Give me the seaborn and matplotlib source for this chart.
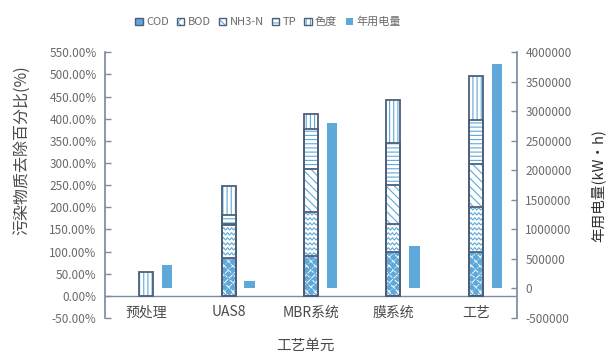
import numpy as np
import matplotlib
matplotlib.use("Agg")
import matplotlib.pyplot as plt
import seaborn as sns
from matplotlib.patches import Rectangle, Patch, Polygon
from matplotlib.lines import Line2D
from matplotlib.ticker import FuncFormatter, FixedLocator

# ---- data -------------------------------------------------------------
units = ["预处理", "UAS8", "MBR系统", "膜系统", "工艺"]
pollutants = ["COD", "BOD", "NH3-N", "TP", "色度"]
cod = [0, 85, 90, 100, 100]
bod = [0, 76, 99, 62, 100]
nh3n = [0, 2, 98, 88, 97]
tp = [0, 19, 89, 95, 100]
chroma = [55, 66, 35, 98, 100]
power = [390000, 120000, 2800000, 720000, 3800000]
left_ticks = list(range(-50, 551, 50))
right_ticks = list(range(-500000, 4000001, 500000))

# ---- style ------------------------------------------------------------
sns.set_theme(style="white")
plt.rcParams["font.family"] = ["Noto Sans CJK SC", "DejaVu Sans"]
plt.rcParams["hatch.linewidth"] = 0.8

BLUE = "#5ea9d9"
OUTLINE = "#4f5f78"
SPINE = "#7d8ca3"
TICKTXT = "#6a6a6a"
LABEL = "#4a4a4a"

W, H = 608, 353
fig = plt.figure(figsize=(W / 100, H / 100), dpi=100)
ax = fig.add_axes([105 / W, 35 / H, 412 / W, 265.7 / H])
ax2 = ax.twinx()

# ---- stacked removal bars (cumulative layers, tallest first) ----------
series = [cod, bod, nh3n, tp, chroma]
cum = np.cumsum(np.array(series, dtype=float), axis=0)
hatches = [None, "wave", "\\\\\\\\", "----", "||||"]

layer_patches = {}
for k in reversed(range(len(series))):
    n_before = len(ax.patches)
    sns.barplot(x=units, y=cum[k], order=units, ax=ax, width=0.17,
                color="white", saturation=1, errorbar=None)
    layer_patches[k] = ax.patches[n_before:]

ax.set_xlim(-0.5, 4.5)
ax.set_ylim(-50, 550)

for k in range(len(series)):
    for i, p in enumerate(layer_patches[k]):
        p.set_zorder(2)
        p.set_linewidth(0)
        p.set_facecolor("white")
        if k == 0:
            p.set_edgecolor("white")
        else:
            p.set_edgecolor(BLUE)
            if hatches[k] != "wave":
                p.set_hatch(hatches[k])
        if series[k][i] > 0:
            r = Rectangle((p.get_x(), p.get_y()), p.get_width(), p.get_height(),
                          fill=False, edgecolor=OUTLINE, linewidth=1.3, zorder=4)
            ax.add_patch(r)

# pixel -> data helper for the custom fill patterns
to_data = ax.transData.inverted()
fig.canvas.draw()

# COD: blue diamonds on white
for i, p in enumerate(layer_patches[0]):
    if cod[i] <= 0:
        continue
    bb = p.get_window_extent()
    step = 8.6
    d = step * 0.42
    cx0 = (bb.x0 + bb.x1) / 2
    row = 0
    yc = bb.y0 + step / 2
    while yc < bb.y1 + step:
        off = 0 if row % 2 == 0 else step / 2
        xc = cx0 - 2 * step + off
        while xc < bb.x1 + step:
            poly = ((xc, yc - d), (xc + d, yc), (xc, yc + d), (xc - d, yc))
            pg = Polygon(to_data.transform(np.asarray(poly)), closed=True,
                         facecolor=BLUE, edgecolor="none", zorder=3)
            ax.add_patch(pg)
            pg.set_clip_path(p)
            xc += step
        yc += step / 2
        row += 1

# BOD: blue zigzag waves
for i, p in enumerate(layer_patches[1]):
    if bod[i] <= 0:
        continue
    bb = p.get_window_extent()
    yc = bb.y0 + 2.0
    while yc < bb.y1 + 5:
        xs = np.arange(bb.x0 - 4, bb.x1 + 4, 2.0)
        ys = yc + np.where(np.arange(len(xs)) % 2 == 0, -1.2, 1.2)
        pts = to_data.transform(np.column_stack([xs, ys]))
        ln = Line2D(pts[:, 0], pts[:, 1], color=BLUE, lw=0.8, zorder=3)
        ax.add_line(ln)
        ln.set_clip_path(p)
        yc += 5.0

# ---- annual power consumption on the secondary axis -------------------
power_pos = np.arange(len(units)) + 0.255
sns.barplot(x=power_pos, y=power, native_scale=True, ax=ax2, width=0.127,
            color=BLUE, saturation=1, errorbar=None, linewidth=0)
for p in ax2.patches:
    p.set_edgecolor("none")
ax2.set_ylim(-500000, 4000000)
ax.set_xlim(-0.5, 4.5)

# ---- axes styling -----------------------------------------------------
ax.axhline(0, color=SPINE, lw=1.0, zorder=1)
for a in (ax, ax2):
    for s in ("top", "bottom"):
        a.spines[s].set_visible(False)
ax.spines["right"].set_visible(False)
ax2.spines["left"].set_visible(False)
ax.spines["left"].set_color(SPINE)
ax2.spines["right"].set_color(SPINE)

ax.yaxis.set_major_locator(FixedLocator(left_ticks))
ax.yaxis.set_major_formatter(FuncFormatter(lambda v, _: f"{v:.2f}%"))
ax2.yaxis.set_major_locator(FixedLocator(right_ticks))
ax2.yaxis.set_major_formatter(FuncFormatter(lambda v, _: f"{int(round(v))}"))

ax.tick_params(axis="y", direction="in", length=4, width=1, color=SPINE,
               labelsize=8.5, labelcolor=TICKTXT, pad=6, left=True)
ax2.tick_params(axis="y", direction="in", length=4, width=1, color=SPINE,
                labelsize=8.5, labelcolor=TICKTXT, pad=6, right=True)
ax.set_xticks(range(len(units)), units)
ax.tick_params(axis="x", length=0, labelsize=10, labelcolor=LABEL, pad=-9)
ax.set_xlabel("")
ax.set_ylabel("")
ax2.set_ylabel("")
ax2.set_xlabel("")

fig.text(305 / W, 1 - 346 / H, "工艺单元", ha="center", va="center",
         fontsize=10.5, color=LABEL)
fig.text(22 / W, 1 - 150 / H, "污染物质去除百分比(%)", ha="center", va="center",
         rotation=90, fontsize=11.5, color=LABEL)
fig.text(598 / W, 1 - 186 / H, "年用电量(kW·h)", ha="center", va="center",
         rotation=90, fontsize=10.5, color="#303030")

# ---- legend -----------------------------------------------------------
legend_hatch = [None, "xxx", "\\\\\\\\", "----", "||||"]
handles = []
for k, name in enumerate(pollutants):
    if k == 0:
        fill = Patch(facecolor=BLUE, edgecolor=BLUE, linewidth=0)
    else:
        fill = Patch(facecolor="white", edgecolor=BLUE, linewidth=0,
                     hatch=legend_hatch[k])
    edge = Patch(facecolor="none", edgecolor=OUTLINE, linewidth=1.0)
    handles.append((fill, edge))
handles.append(Patch(facecolor=BLUE, edgecolor="none"))
labels = pollutants + ["年用电量"]
fig.legend(handles, labels, loc="center", bbox_to_anchor=(268 / W, 1 - 22 / H),
           ncol=6, frameon=False, fontsize=8, handlelength=0.65,
           handleheight=0.65, handletextpad=0.3, columnspacing=0.75,
           labelcolor=TICKTXT)

fig.savefig("out.png", dpi=100)
